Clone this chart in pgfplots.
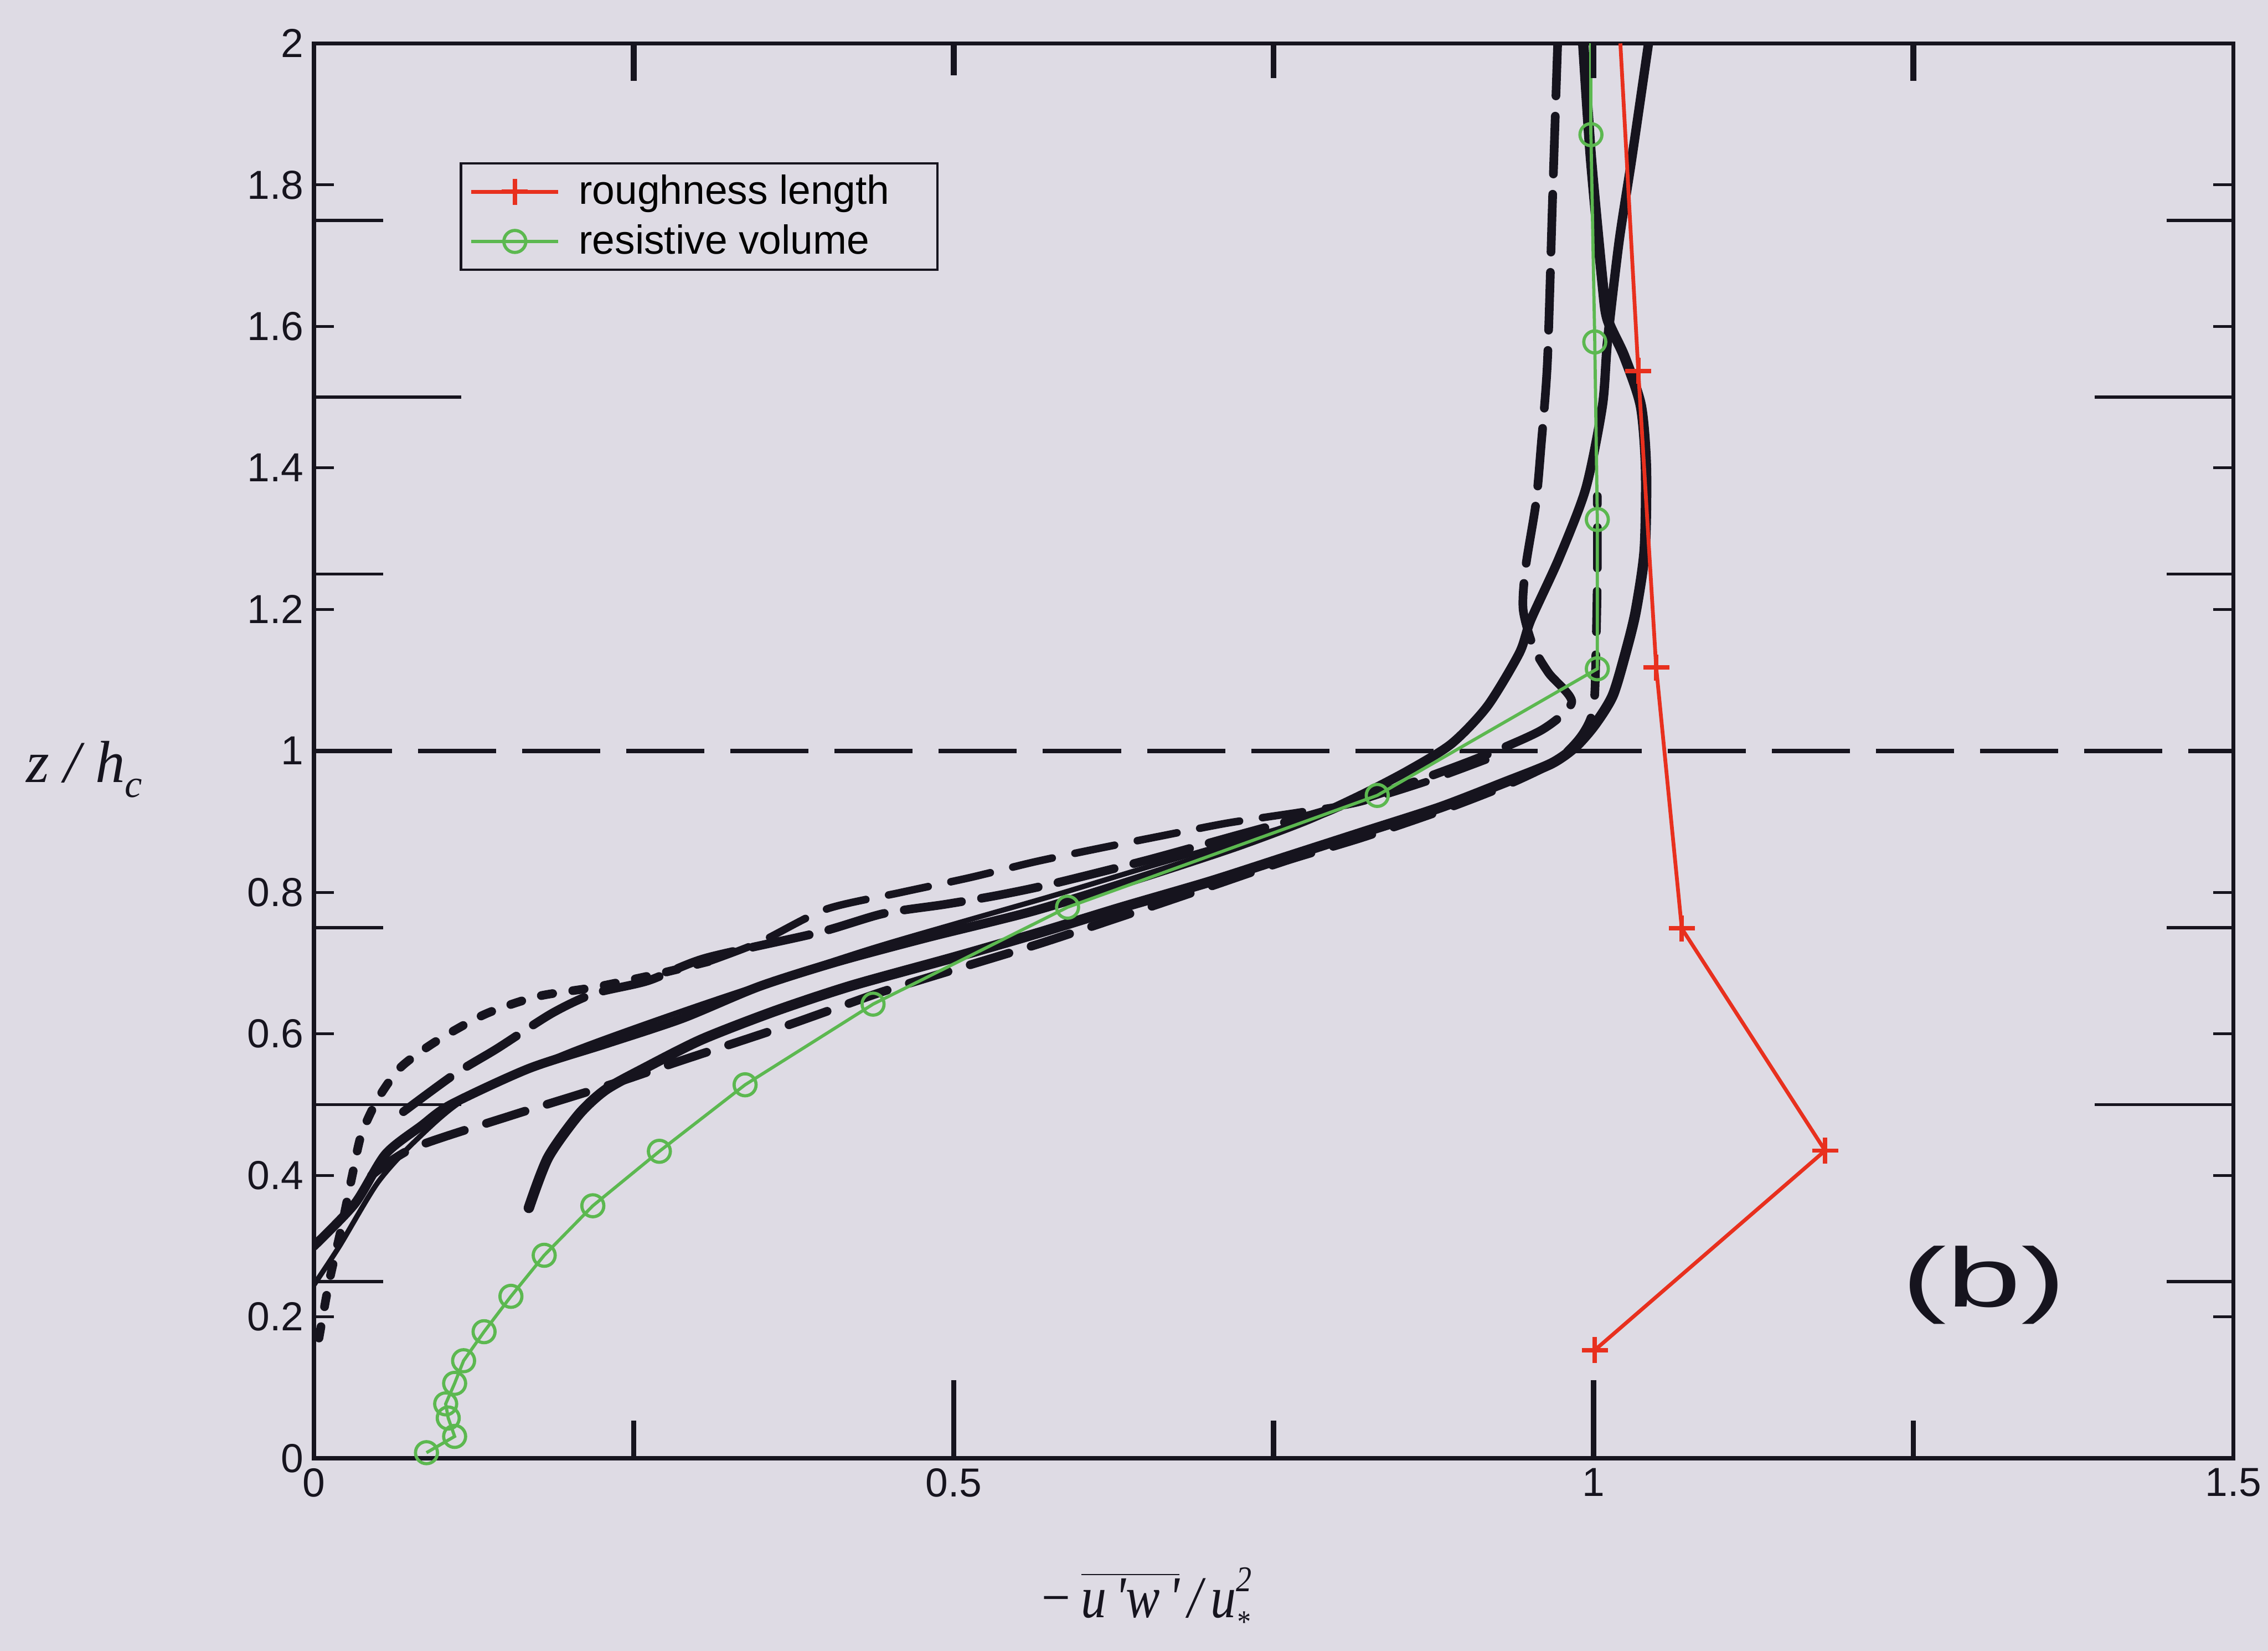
\documentclass[border=0pt]{standalone}
\usepackage{pgfplots}
\pgfplotsset{compat=1.18}
\usepackage{fontspec}
\setmainfont{Liberation Sans}
\newfontfamily\tnr{Liberation Serif}
\definecolor{bgc}{RGB}{222,219,228}
\definecolor{redc}{RGB}{232,48,30}
\definecolor{greenc}{RGB}{92,184,80}
\definecolor{inkc}{RGB}{22,20,30}
\pgfplotsset{blk/.style={forget plot, no markers, color=inkc, line cap=round, line join=round, smooth, tension=0.45}}
\begin{document}
\begin{tikzpicture}
\path[use as bounding box, fill=bgc] (-108.5pt,-66.5pt) rectangle (675.5pt,504pt);
\begin{axis}[
  at={(0,0)}, anchor=south west,
  scale only axis, width=663.5pt, height=489pt,
  xmin=0, xmax=1.5, ymin=0, ymax=2,
  xtick={0,0.5,1,1.5},
  ytick={0,0.2,0.4,0.6,0.8,1,1.2,1.4,1.6,1.8,2},
  tick align=inside, xtick pos=both, ytick pos=both,
  xticklabel pos=lower, yticklabel pos=left,
  major tick length=7pt,
  every tick/.style={inkc, line width=1pt},
  axis line style={inkc, line width=1.4pt},
  tick label style={font=\fontsize{14}{14}\selectfont, text=inkc},
  /pgf/number format/assume math mode=true,
  xlabel={{\tnr\itshape\fontsize{20.5}{22}\selectfont −\,$\overline{\hbox{\tnr\itshape\fontsize{20.5}{22}\selectfont u\,'w\,'}}$\,/\,u\makebox[0pt][l]{\raisebox{-0.55ex}{\fontsize{11}{11}\selectfont *}}\raisebox{0.95ex}{\fontsize{12.5}{12.5}\selectfont 2}}},
  xlabel style={at={(axis description cs:0.433,0)}, anchor=base, yshift=-55pt, xscale=0.86, text=inkc},
  ylabel={{\tnr\itshape\fontsize{20.5}{22}\selectfont z / h\raisebox{-0.55ex}{\fontsize{13.5}{14}\selectfont c}}},
  ylabel style={rotate=-90, at={(axis description cs:-0.084,0.487)}, anchor=east, text=inkc},
  legend style={at={(axis description cs:0.076,0.916)}, anchor=north west, draw=inkc, line width=0.8pt, fill=bgc,
    font=\fontsize{14}{16}\selectfont, inner xsep=3pt, inner ysep=2.5pt, row sep=2.5pt, column sep=5pt, nodes={inner sep=1.5pt}},
  legend cell align=left,
  legend image code/.code={\draw[mark repeat=2, mark phase=2] plot coordinates {(0pt,0pt) (15pt,0pt) (30pt,0pt)};},
]
% scanned black profiles
\addplot[blk, line width=3pt, dash pattern=on 4pt off 7pt] coordinates {
(0.004,0.17) (0.012,0.25) (0.022,0.33) (0.030,0.40) (0.037,0.457) (0.050,0.508) (0.068,0.553) (0.096,0.59) (0.134,0.628) (0.175,0.653) (0.22,0.666) (0.272,0.686) (0.31,0.703)};
\addplot[blk, line width=2.6pt, dash pattern=on 14pt off 8pt] coordinates {
(0.31,0.703) (0.349,0.73) (0.40,0.776) (0.459,0.80) (0.513,0.821) (0.563,0.843) (0.613,0.862) (0.663,0.88) (0.714,0.898) (0.769,0.913) (0.816,0.927) (0.872,0.958) (0.92,0.99)};
\addplot[blk, line width=3pt, dash pattern=on 20pt off 7pt] coordinates {
(0.07,0.49) (0.11,0.543) (0.143,0.579) (0.186,0.629) (0.219,0.657) (0.261,0.675) (0.306,0.707) (0.394,0.743) (0.445,0.77) (0.493,0.783) (0.535,0.796) (0.577,0.812) (0.65,0.845) (0.72,0.88) (0.79,0.915) (0.85,0.95) (0.91,0.99) (0.96,1.03) (0.983,1.069) (0.965,1.11) (0.953,1.147) (0.945,1.2) (0.947,1.26) (0.955,1.35) (0.959,1.43) (0.964,1.55) (0.968,1.78) (0.972,2.0)};
\addplot[blk, line width=3.2pt] coordinates {
(0.0,0.30) (0.032,0.36) (0.056,0.43) (0.084,0.47) (0.107,0.50) (0.168,0.551) (0.228,0.586) (0.288,0.622) (0.348,0.667) (0.409,0.702) (0.479,0.736) (0.563,0.774) (0.647,0.821) (0.721,0.865) (0.777,0.903) (0.819,0.938) (0.855,0.972) (0.889,1.01) (0.917,1.063) (0.942,1.138) (0.951,1.185) (0.973,1.272) (0.994,1.371) (1.007,1.488) (1.011,1.58) (1.02,1.72) (1.03,1.838) (1.043,2.0)};
\addplot[blk, line width=1.8pt] coordinates {
(0.0,0.245) (0.02,0.30) (0.05,0.39) (0.08,0.45) (0.12,0.51) (0.2,0.575) (0.3,0.64) (0.427,0.716) (0.5,0.755) (0.577,0.795) (0.65,0.835) (0.72,0.872) (0.79,0.91) (0.83,0.945)};
\addplot[blk, line width=3.6pt] coordinates {
(0.168,0.354) (0.183,0.425) (0.207,0.486) (0.228,0.521) (0.258,0.551) (0.303,0.592) (0.36,0.632) (0.42,0.668) (0.5,0.708) (0.565,0.742) (0.63,0.778) (0.70,0.815) (0.76,0.85) (0.82,0.885) (0.88,0.92) (0.93,0.955) (0.967,0.982) (0.986,1.006) (1.001,1.037) (1.015,1.078) (1.025,1.138) (1.033,1.197) (1.04,1.284) (1.041,1.40) (1.037,1.488) (1.024,1.558) (1.011,1.61) (1.007,1.663) (0.998,1.838) (0.992,2.0)};
\addplot[blk, line width=3pt, dash pattern=on 14pt off 8pt] coordinates {
(0.045,0.40) (0.078,0.439) (0.155,0.485) (0.233,0.529) (0.285,0.561) (0.362,0.607) (0.409,0.637) (0.445,0.66) (0.499,0.69) (0.568,0.728) (0.638,0.77) (0.70,0.808) (0.76,0.845) (0.82,0.878) (0.88,0.915) (0.93,0.95) (0.97,0.985) (0.99,1.02) (1.0,1.06) (1.002,1.15) (1.003,1.25) (1.003,1.36)};
% canopy top
\addplot[forget plot, inkc, line width=1.5pt, dash pattern=on 27pt off 9pt] coordinates {(0,1) (1.5,1)};
% model results
\addplot[color=redc, line width=1.3pt, mark=+, mark size=4.5pt, mark options={line width=1.5pt, solid}] coordinates {
(1.001,0.153) (1.181,0.435) (1.069,0.749) (1.049,1.118) (1.035,1.537)};
\addlegendentry{roughness length\hspace*{12pt}}
\addplot[forget plot, color=redc, line width=1.3pt] coordinates {(1.035,1.537) (1.021,2.0)};
\addplot[color=greenc, line width=1.1pt, mark=o, mark size=3.8pt, mark options={line width=1.1pt, solid}] coordinates {
(0.088,0.008) (0.110,0.031) (0.105,0.057) (0.103,0.077) (0.110,0.106) (0.117,0.138) (0.133,0.179) (0.154,0.229) (0.180,0.287) (0.218,0.357) (0.270,0.434) (0.337,0.528) (0.437,0.642) (0.589,0.779) (0.831,0.937) (1.003,1.116) (1.003,1.327) (1.001,1.578) (0.998,1.871)};
\addlegendentry{resistive volume\hspace*{12pt}}
\addplot[forget plot, color=greenc, line width=1.1pt] coordinates {(0.998,1.871) (0.998,2.0)};
% scanned frame ticks
\draw[inkc, line width=1.1pt] (axis cs:0,0.25) -- ++(24pt,0) (axis cs:0,0.75) -- ++(24pt,0) (axis cs:0,1.25) -- ++(24pt,0) (axis cs:0,1.75) -- ++(24pt,0);
\draw[inkc, line width=1.1pt] (axis cs:0,0.5) -- ++(51pt,0) (axis cs:0,1.5) -- ++(51pt,0);
\draw[inkc, line width=1.1pt] (axis cs:1.5,0.25) -- ++(-23pt,0) (axis cs:1.5,0.75) -- ++(-23pt,0) (axis cs:1.5,1.25) -- ++(-23pt,0) (axis cs:1.5,1.75) -- ++(-23pt,0);
\draw[inkc, line width=1.1pt] (axis cs:1.5,0.5) -- ++(-48pt,0) (axis cs:1.5,1.5) -- ++(-48pt,0);
\draw[inkc, line width=2pt] (axis cs:0.25,2) -- ++(0,-13pt) (axis cs:0.5,2) -- ++(0,-11pt) (axis cs:0.75,2) -- ++(0,-12pt) (axis cs:1.0,2) -- ++(0,-12pt) (axis cs:1.25,2) -- ++(0,-13pt);
\draw[inkc, line width=1.8pt] (axis cs:0.25,0) -- ++(0,13pt) (axis cs:0.75,0) -- ++(0,13pt) (axis cs:1.25,0) -- ++(0,13pt) (axis cs:0.5,0) -- ++(0,27pt) (axis cs:1.0,0) -- ++(0,27pt);
\node[xscale=1.6, text=inkc, font=\fontsize{29}{32}\selectfont] at (axis cs:1.305,0.245) {(b)};
\end{axis}
\end{tikzpicture}
\end{document}
